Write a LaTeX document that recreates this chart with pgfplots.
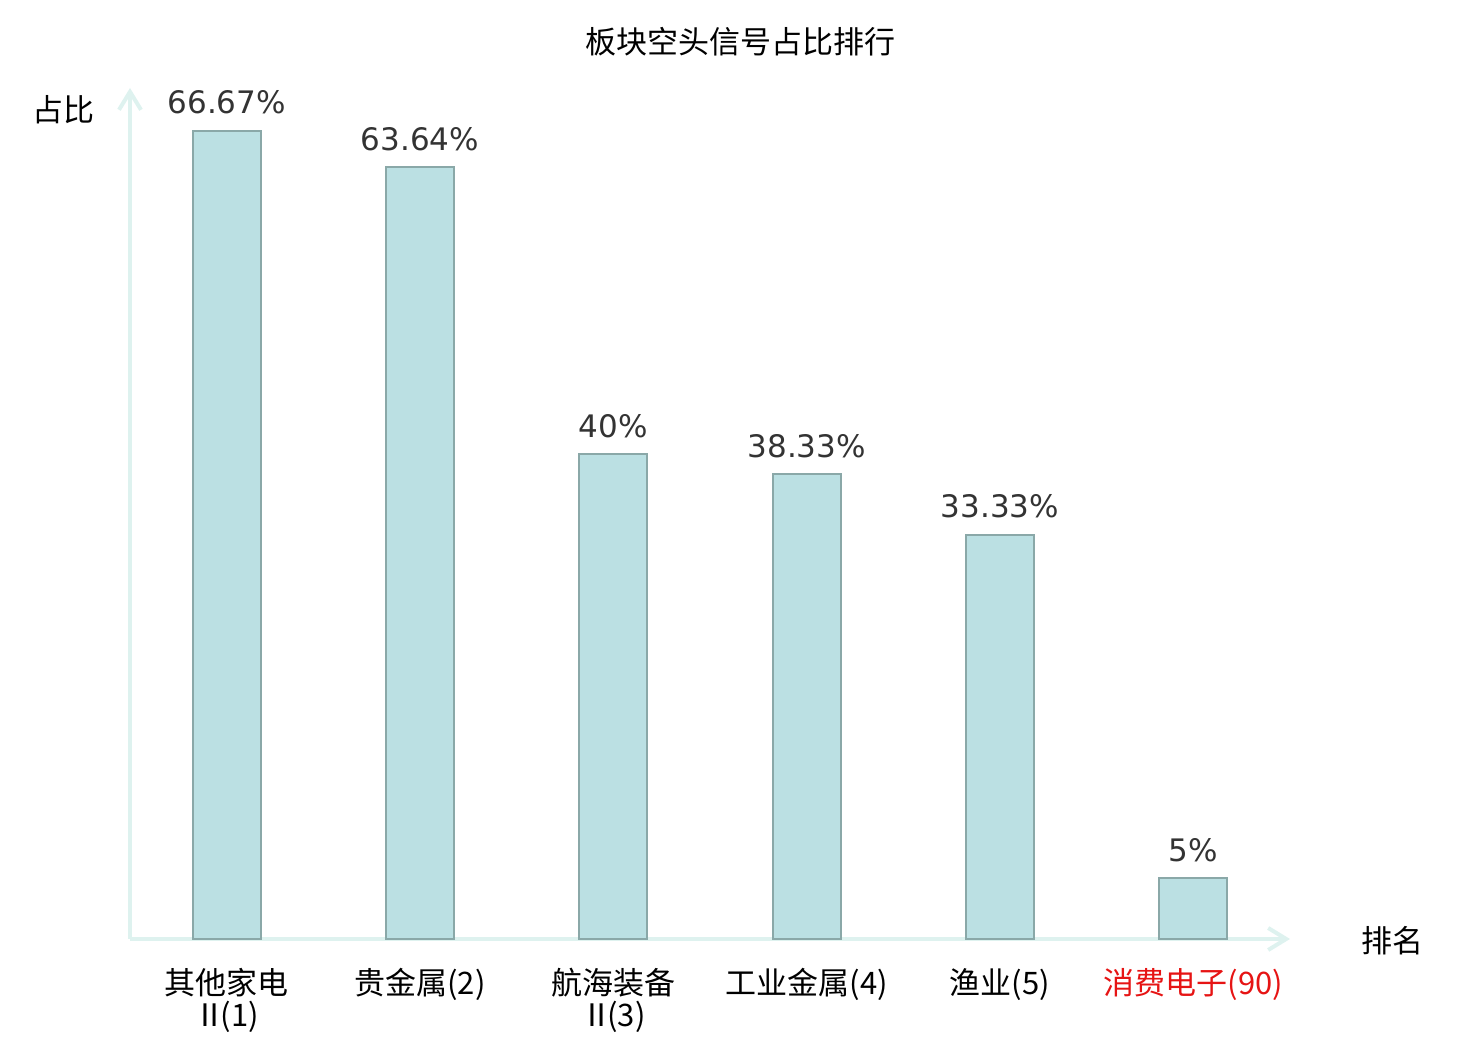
\documentclass[border=0pt]{standalone}
\usepackage{pgfplots}
\pgfplotsset{compat=1.18}
\usepackage{fontspec}
\setmainfont{Noto Sans CJK SC}
\newfontfamily\dejavu{DejaVu Sans}
\usetikzlibrary{arrows.meta}
\definecolor{barfill}{RGB}{187,224,227}
\definecolor{baredge}{RGB}{138,168,168}
\definecolor{axcol}{RGB}{222,242,239}
\definecolor{valcol}{RGB}{51,51,51}
\definecolor{redlab}{RGB}{230,20,20}
\pgfplotstableread{
x y label
0 66.67 66.67\%
1 63.64 63.64\%
2 40 40\%
3 38.33 38.33\%
4 33.33 33.33\%
5 5 5\%
}\datatable
\begin{document}
\begin{tikzpicture}[x=1bp,y=1bp]
\path[use as bounding box] (0,0) rectangle (740,520);
\node[font=\fontsize{15.5bp}{16bp}\selectfont] at (370,499) {板块空头信号占比排行};
\node[font=\fontsize{15.5bp}{16bp}\selectfont] at (31.5,465) {占比};
\node[font=\fontsize{15.5bp}{16bp}\selectfont] at (696,49.5) {排名};
\begin{axis}[
  at={(65bp,50.5bp)}, anchor=south west,
  scale only axis, width=580bp, height=425.5bp,
  xmin=-0.5, xmax=5.5, ymin=0, ymax=70.2,
  axis lines=left,
  axis line style={axcol, line width=2bp, -{Straight Barb[length=9bp,width=11bp,line width=2bp]}},
  ytick=\empty, xtick={0,...,5}, major tick length=0,
  xticklabels={{其他家电\\Ⅱ\kern-0.15em(1)}, 贵金属(2), {航海装备\\Ⅱ\kern-0.15em(3)}, 工业金属(4), 渔业(5), \textcolor{redlab}{消费电子(90)}},
  xticklabel style={align=center, anchor=north, font=\fontsize{15.5bp}{16bp}\selectfont, text=black, yshift=-11bp},
  ybar, bar width=34bp,
  clip=false,
  nodes near coords, point meta=explicit symbolic,
  nodes near coords style={font=\dejavu\fontsize{15.5bp}{16bp}\selectfont, text=valcol, anchor=base, yshift=8.5bp},
]
\addplot[fill=barfill, draw=baredge, line width=1bp] table[x=x, y=y, meta=label] {\datatable};
\end{axis}
\end{tikzpicture}
\end{document}
